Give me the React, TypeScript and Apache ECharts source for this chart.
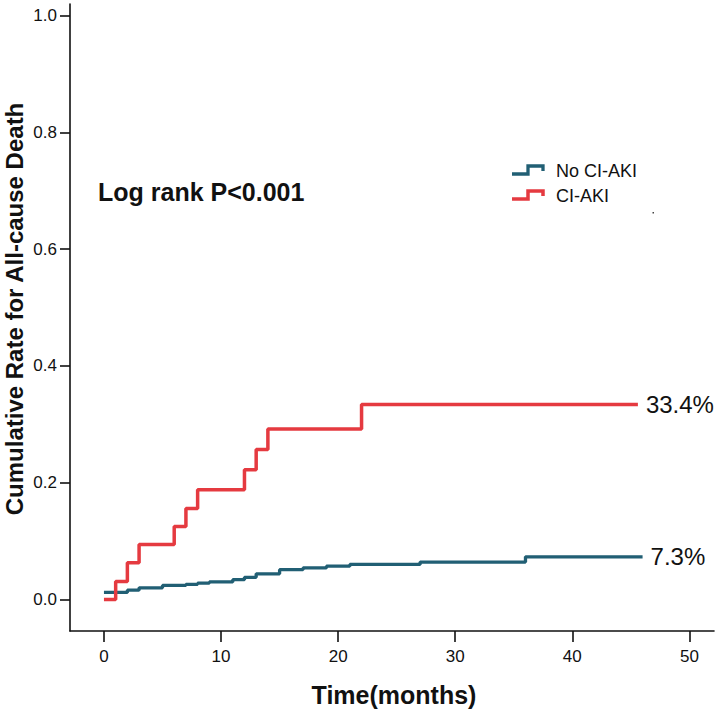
import React, { useEffect, useRef } from "react";
import * as echarts from "echarts";

// Kaplan-Meier cumulative event rates
const monthsNoAKI = [0, 2, 3, 5, 7, 8, 9, 11, 12, 13, 15, 17, 19, 21, 27, 36, 46];
const rateNoAKI = [0.012, 0.016, 0.02, 0.024, 0.026, 0.028, 0.03, 0.034, 0.038, 0.044, 0.051, 0.054, 0.057, 0.06, 0.064, 0.073, 0.073];

const monthsAKI = [0, 1, 2, 3, 6, 7, 8, 12, 13, 14, 22, 45.6];
const rateAKI = [0, 0.031, 0.063, 0.094, 0.125, 0.156, 0.188, 0.222, 0.257, 0.292, 0.334, 0.334];

const xTicks = [0, 10, 20, 30, 40, 50];
const yTicks = [0, 0.2, 0.4, 0.6, 0.8, 1.0];

const seriesNames = ["No CI-AKI", "CI-AKI"];
const endLabels = ["7.3%", "33.4%"];

const TEAL = "#215F74";
const RED = "#E53A40";
const FONT = "'Liberation Sans', Arial, sans-serif";

export default function App() {
  const ref = useRef<HTMLDivElement>(null);

  useEffect(() => {
    if (!ref.current) return;
    const chart = echarts.init(ref.current, undefined, { renderer: "svg" });

    const noAKI = monthsNoAKI.map((t, i) => [t, rateNoAKI[i]]);
    const aki = monthsAKI.map((t, i) => [t, rateAKI[i]]);

    chart.setOption({
      animation: false,
      backgroundColor: "#ffffff",
      textStyle: { fontFamily: FONT },
      grid: {
        left: 70,
        right: 5,
        top: 4,
        bottom: 84,
        containLabel: false,
        outerBoundsMode: "none",
      },
      xAxis: {
        type: "value",
        min: -2.9,
        max: 52.1,
        axisLine: { show: true, onZero: false, lineStyle: { color: "#111", width: 1.6 } },
        axisTick: {
          show: true,
          length: 11,
          customValues: xTicks,
          lineStyle: { color: "#111", width: 1.6 },
        },
        axisLabel: {
          show: true,
          customValues: xTicks,
          margin: 17,
          fontSize: 17,
          color: "#111",
          fontFamily: FONT,
        },
        splitLine: { show: false },
      },
      yAxis: {
        type: "value",
        min: -0.054,
        max: 1.02,
        axisLine: { show: true, onZero: false, lineStyle: { color: "#111", width: 1.6 } },
        axisTick: {
          show: true,
          length: 10,
          customValues: yTicks,
          lineStyle: { color: "#111", width: 1.6 },
        },
        axisLabel: {
          show: true,
          customValues: yTicks,
          margin: 13,
          fontSize: 17,
          color: "#111",
          fontFamily: FONT,
          formatter: (v: number) => v.toFixed(1),
        },
        splitLine: { show: false },
      },
      series: [
        {
          name: seriesNames[0],
          type: "line",
          step: "end",
          data: noAKI,
          symbol: "none",
          silent: true,
          lineStyle: { color: TEAL, width: 3.3 },
          itemStyle: { color: TEAL },
          endLabel: {
            show: true,
            formatter: endLabels[0],
            distance: 8,
            fontSize: 24,
            color: "#111",
            fontFamily: FONT,
          },
          z: 2,
        },
        {
          name: seriesNames[1],
          type: "line",
          step: "end",
          data: aki,
          symbol: "none",
          silent: true,
          lineStyle: { color: RED, width: 3.5 },
          itemStyle: { color: RED },
          endLabel: {
            show: true,
            formatter: endLabels[1],
            distance: 8,
            fontSize: 24,
            color: "#111",
            fontFamily: FONT,
          },
          z: 3,
        },
      ],
      graphic: [
        {
          type: "text",
          x: 14,
          y: 309,
          rotation: Math.PI / 2,
          style: {
            text: "Cumulative Rate for All-cause Death",
            font: `bold 24px ${FONT}`,
            fill: "#111",
            align: "center",
            verticalAlign: "middle",
          },
        },
        {
          type: "text",
          x: 394,
          y: 695,
          style: {
            text: "Time(months)",
            font: `bold 25px ${FONT}`,
            fill: "#111",
            align: "center",
            verticalAlign: "middle",
          },
        },
        {
          type: "text",
          x: 98,
          y: 192,
          style: {
            text: "Log rank P<0.001",
            font: `bold 25px ${FONT}`,
            fill: "#111",
            align: "left",
            verticalAlign: "middle",
          },
        },
        {
          type: "polyline",
          shape: { points: [[512, 174], [528, 174], [528, 166], [543, 166], [543, 171]] },
          style: { stroke: TEAL, lineWidth: 3.3, fill: "none" },
        },
        {
          type: "polyline",
          shape: { points: [[512, 199], [528, 199], [528, 191], [543, 191], [543, 196]] },
          style: { stroke: RED, lineWidth: 3.5, fill: "none" },
        },
        {
          type: "text",
          x: 556,
          y: 171,
          style: {
            text: seriesNames[0],
            font: `18px ${FONT}`,
            fill: "#111",
            align: "left",
            verticalAlign: "middle",
          },
        },
        {
          type: "text",
          x: 556,
          y: 196,
          style: {
            text: seriesNames[1],
            font: `18px ${FONT}`,
            fill: "#111",
            align: "left",
            verticalAlign: "middle",
          },
        },
        {
          type: "rect",
          shape: { x: 652.5, y: 212, width: 1.5, height: 1.5 },
          style: { fill: "#444" },
        },
      ],
    });

    return () => chart.dispose();
  }, []);

  return (
    <div
      ref={ref}
      style={{ position: "fixed", left: 0, top: 0, width: 719, height: 715, background: "#fff" }}
    />
  );
}
